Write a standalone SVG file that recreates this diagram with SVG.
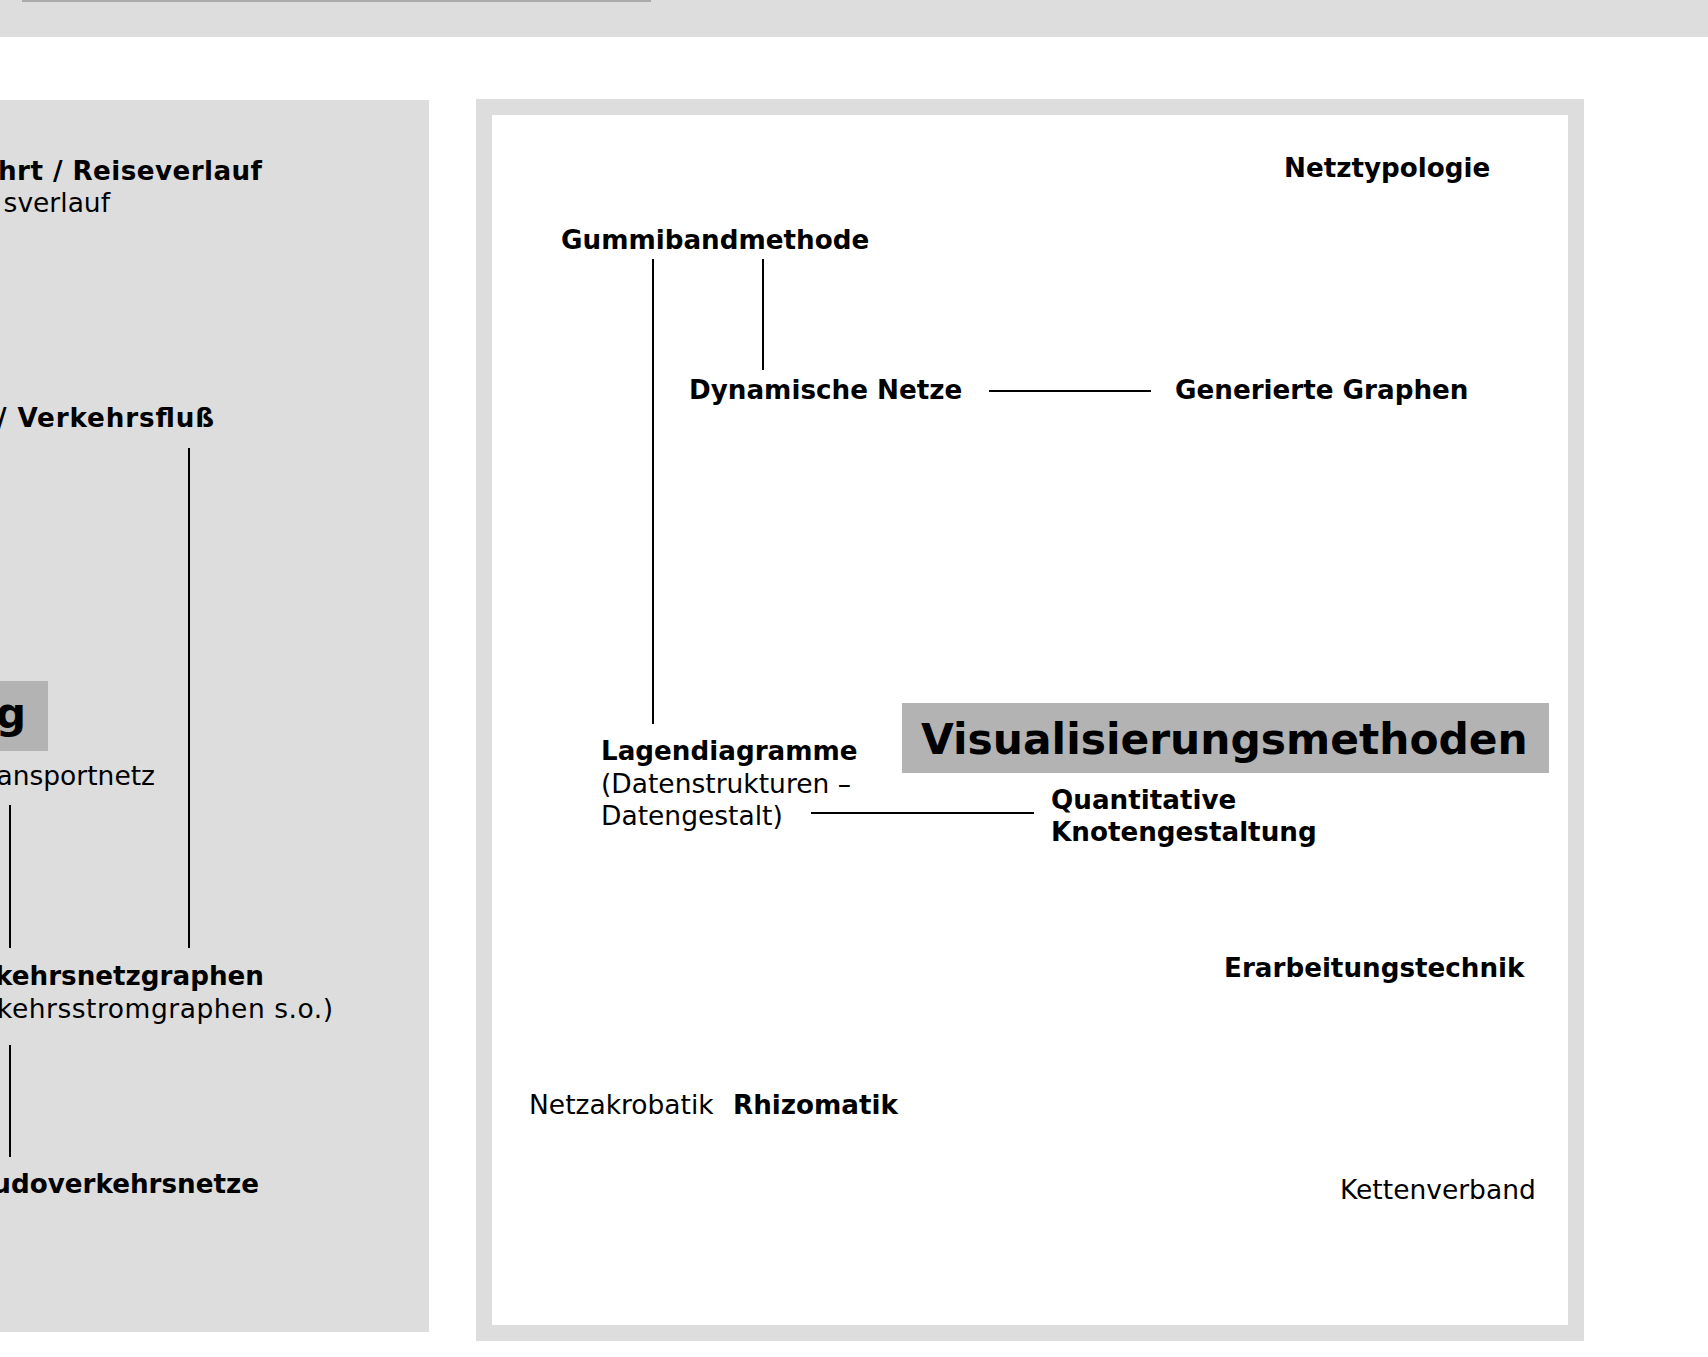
<svg xmlns="http://www.w3.org/2000/svg" width="1708" height="1357" viewBox="0 0 1708 1357">
<style>
  text { font-family: "DejaVu Sans", Verdana, sans-serif; font-size: 26.5px; fill: #000; }
  .b { font-weight: bold; font-size: 26.2px; }
  .e { text-anchor: end; }
  .title { font-size: 42.4px; font-weight: bold; }
  .panel { fill: #dddddd; }
  .hl { fill: #b3b3b3; }
  #connectors line { stroke: #000; stroke-width: 2; }
</style>
<rect x="0" y="0" width="1708" height="1357" fill="#ffffff"/>
<g id="topbar">
  <rect class="panel" x="0" y="0" width="1708" height="37"/>
  <rect x="22" y="0" width="629" height="2" fill="#aaaaaa"/>
</g>
<g id="left-panel">
  <rect class="panel" x="0" y="100" width="429" height="1232"/>
</g>
<g id="right-panel">
  <rect x="484" y="107" width="1092" height="1226" fill="#ffffff" stroke="#dddddd" stroke-width="16"/>
</g>

<g id="connectors">
  <line x1="189" y1="448" x2="189" y2="948"/>
  <line x1="10" y1="805" x2="10" y2="948"/>
  <line x1="10" y1="1045" x2="10" y2="1157"/>
  <line x1="653" y1="259" x2="653" y2="724"/>
  <line x1="763" y1="259" x2="763" y2="370"/>
  <line x1="989" y1="391" x2="1151" y2="391"/>
  <line x1="811" y1="813" x2="1034" y2="813"/>
</g>

<g id="node-reiseverlauf">
  <text class="b e" x="262" y="180" textLength="264">hrt / Reiseverlauf</text>
  <text class="e" x="110" y="212">sverlauf</text>
</g>
<g id="node-verkehrsfluss">
  <text class="b e" x="214" y="427" textLength="217">/ Verkehrsfluß</text>
</g>
<g id="node-left-title">
  <rect class="hl" x="0" y="681" width="48" height="70"/>
  <text class="title e" x="26" y="728">g</text>
  <text class="e" x="155" y="785">ansportnetz</text>
</g>
<g id="node-verkehrsnetzgraphen">
  <text class="b e" x="264" y="985">kehrsnetzgraphen</text>
  <text class="e" x="333" y="1018" textLength="336">kehrsstromgraphen s.o.)</text>
</g>
<g id="node-pseudoverkehrsnetze">
  <text class="b e" x="259" y="1193">udoverkehrsnetze</text>
</g>

<g id="node-netztypologie">
  <text class="b" x="1284" y="176.5">Netztypologie</text>
</g>
<g id="node-gummibandmethode">
  <text class="b" x="561" y="248.5">Gummibandmethode</text>
</g>
<g id="node-dynamische-netze">
  <text class="b" x="689" y="398.5">Dynamische Netze</text>
</g>
<g id="node-generierte-graphen">
  <text class="b" x="1175" y="398.5">Generierte Graphen</text>
</g>
<g id="node-visualisierungsmethoden">
  <rect class="hl" x="902" y="703" width="647" height="70"/>
  <text class="title" x="921" y="754">Visualisierungsmethoden</text>
</g>
<g id="node-lagendiagramme">
  <text class="b" x="601" y="760">Lagendiagramme</text>
  <text x="601" y="792.5">(Datenstrukturen –</text>
  <text x="601" y="824.5">Datengestalt)</text>
</g>
<g id="node-quantitative">
  <text class="b" x="1051" y="808.5">Quantitative</text>
  <text class="b" x="1051" y="840.5">Knotengestaltung</text>
</g>
<g id="node-erarbeitungstechnik">
  <text class="b" x="1224" y="976.5">Erarbeitungstechnik</text>
</g>
<g id="node-netzakrobatik">
  <text x="529" y="1113.5">Netzakrobatik</text>
</g>
<g id="node-rhizomatik">
  <text class="b" x="733" y="1113.5">Rhizomatik</text>
</g>
<g id="node-kettenverband">
  <text x="1340" y="1199">Kettenverband</text>
</g>
</svg>
